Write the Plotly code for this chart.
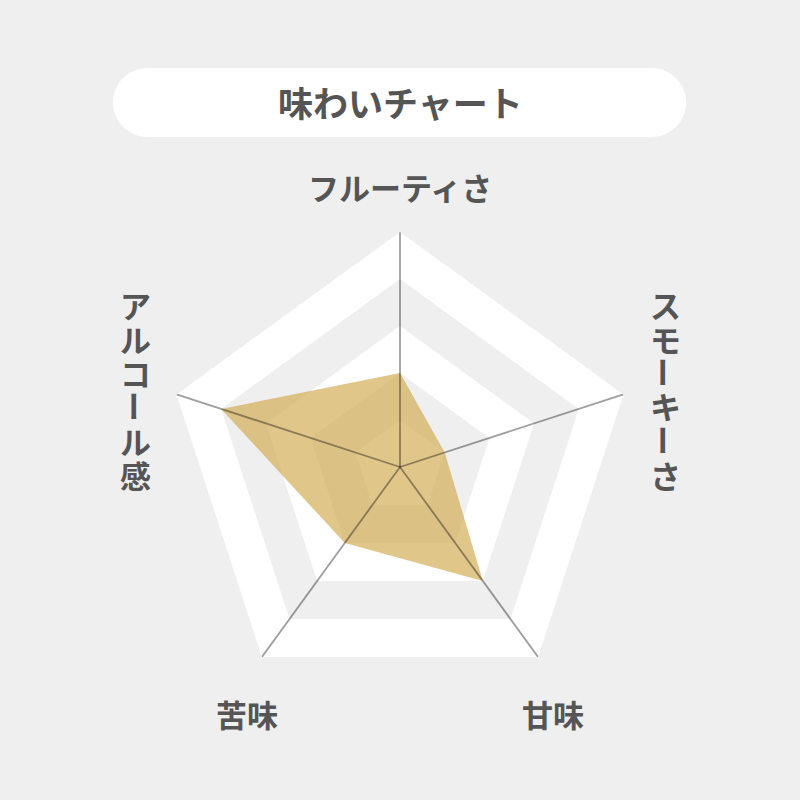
import plotly.graph_objects as go

# data
categories = ["フルーティさ", "スモーキーさ", "甘味", "苦味", "アルコール感"]
values = [2, 1, 3, 2, 4]
max_value = 5
ring_levels = [4, 3, 2, 1]
title_text = "味わいチャート"

BG = "#efefef"
TEXT = "#555555"
FONT = "Noto Sans CJK JP"

fig = go.Figure()

# alternating bands (outer 4-5 ring is the polar bgcolor)
for i, lvl in enumerate(ring_levels):
    fig.add_trace(go.Scatterpolar(
        r=[lvl] * len(categories) + [lvl],
        theta=categories + [categories[0]],
        mode="lines", fill="toself",
        fillcolor=BG if i % 2 == 0 else "white",
        line=dict(width=0, color="rgba(0,0,0,0)"),
        hoverinfo="skip", showlegend=False,
    ))

# the taste shape
fig.add_trace(go.Scatterpolar(
    r=values + [values[0]],
    theta=categories + [categories[0]],
    mode="lines", fill="toself",
    fillcolor="rgba(209,168,75,0.65)",
    line=dict(width=0, color="rgba(0,0,0,0)"),
    hoverinfo="skip", showlegend=False,
))

# spokes on top of the fill
spoke_r, spoke_t = [], []
for c in categories:
    spoke_r += [0, max_value, None]
    spoke_t += [c, c, None]
fig.add_trace(go.Scatterpolar(
    r=spoke_r, theta=spoke_t, mode="lines",
    line=dict(width=1.8, color="rgba(0,0,0,0.38)"),
    hoverinfo="skip", showlegend=False,
))

fig.update_layout(
    width=800, height=800,
    margin=dict(l=0, r=0, t=0, b=0),
    paper_bgcolor=BG, plot_bgcolor=BG,
    showlegend=False,
    polar=dict(
        domain=dict(x=[0.20625, 0.79375], y=[0.1225, 0.71]),
        bgcolor="white",
        gridshape="linear",
        radialaxis=dict(range=[0, max_value], visible=False, showgrid=False),
        angularaxis=dict(direction="clockwise", rotation=90, showgrid=False,
                         showline=False, showticklabels=False, ticks=""),
    ),
)


def px(x, y):
    return x / 800, 1 - y / 800


def label(text, x, y, size, angle=0):
    ax, ay = px(x, y)
    fig.add_annotation(text="<b>%s</b>" % text, x=ax, y=ay,
                       xref="paper", yref="paper", showarrow=False,
                       xanchor="center", yanchor="middle", textangle=angle,
                       font=dict(family=FONT, size=size, color=TEXT))


# rounded title box
x0, x1, y0, y1 = 113, 686, 68, 137
rad = (y1 - y0) / 2
k = 0.5523 * rad
pts = [
    ("M", [(x0 + rad, y0)]),
    ("L", [(x1 - rad, y0)]),
    ("C", [(x1 - rad + k, y0), (x1, y0 + rad - k), (x1, y0 + rad)]),
    ("C", [(x1, y0 + rad + k), (x1 - rad + k, y1), (x1 - rad, y1)]),
    ("L", [(x0 + rad, y1)]),
    ("C", [(x0 + rad - k, y1), (x0, y1 - rad + k), (x0, y1 - rad)]),
    ("C", [(x0, y1 - rad - k), (x0 + rad - k, y0), (x0 + rad, y0)]),
]
path = ""
for cmd, ps in pts:
    path += cmd + " " + " ".join("%.5f,%.5f" % px(a, b) for a, b in ps) + " "
path += "Z"
fig.add_shape(type="path", path=path, xref="paper", yref="paper",
              fillcolor="white", line=dict(width=0), layer="below")

label(title_text, 400, 102, 35)

# horizontal labels
horiz = {0: (400, 186), 2: (553, 713), 3: (247, 713)}
for idx, (lx, ly) in horiz.items():
    label(categories[idx], lx, ly, 31)

# vertical labels, one character per annotation
vert = {1: 665, 4: 135}
for idx, lx in vert.items():
    for j, ch in enumerate(categories[idx]):
        label(ch, lx, 304 + j * 34, 31, 90 if ch == "ー" else 0)

fig.write_html("out.html", config={"displayModeBar": False},
               post_script="document.body.style.margin='0';"
                           "document.body.style.background='#efefef';")
